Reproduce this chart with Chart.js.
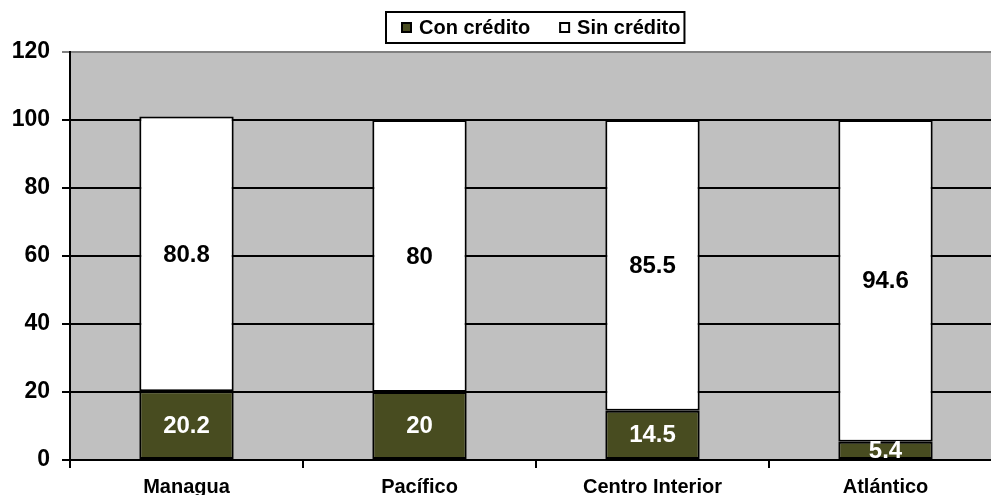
<!DOCTYPE html>
<html>
<head>
<meta charset="utf-8">
<script src="https://cdn.jsdelivr.net/npm/chart.js@4/dist/chart.umd.min.js"></script>
<style>
  html, body { margin: 0; background: #fff; overflow: hidden; }
  #wrap { width: 1002px; height: 495px; position: relative; }
</style>
</head>
<body>
<div id="wrap"><canvas id="chart"></canvas></div>
<script>
var regiones = ['Managua', 'Pacífico', 'Centro Interior', 'Atlántico'];
var conCredito = [20.2, 20, 14.5, 5.4];
var sinCredito = [80.8, 80, 85.5, 94.6];
var yTicks = [0, 20, 40, 60, 80, 100, 120];

var FONT = "'Liberation Sans', Arial, sans-serif";

// plot background
var fondoPlugin = {
    id: 'fondo',
    beforeDraw: function(chart) {
        var a = chart.chartArea, ctx = chart.ctx;
        ctx.save();
        ctx.fillStyle = '#C0C0C0';
        ctx.fillRect(a.left, a.top, a.right - a.left, a.bottom - a.top);
        ctx.restore();
    }
};

// framed legend, centred over the plot area
var leyendaPlugin = {
    id: 'leyenda',
    afterDraw: function(chart) {
        var ctx = chart.ctx, a = chart.chartArea;
        var sets = chart.data.datasets;
        ctx.save();
        ctx.font = 'bold 20px ' + FONT;
        ctx.textBaseline = 'middle';
        var mk = 9, gap = 8, itemGap = 30, padL = 16, padR = 4;
        var widths = sets.map(function(d) { return ctx.measureText(d.label).width; });
        var total = padL + padR;
        widths.forEach(function(w, i) { total += mk + gap + w + (i ? itemGap : 0); });
        var x0 = Math.round((a.left + a.right) / 2 - total / 2) - 1;
        var top = 12, h = 31, cy = top + h / 2;
        ctx.fillStyle = '#fff';
        ctx.fillRect(x0, top, total, h);
        ctx.strokeStyle = '#000';
        ctx.lineWidth = 2;
        ctx.strokeRect(x0, top, total, h);
        var x = x0 + padL;
        sets.forEach(function(d, i) {
            if (i) x += itemGap;
            ctx.fillStyle = d.backgroundColor;
            ctx.fillRect(x, cy - mk / 2, mk, mk);
            ctx.lineWidth = 2;
            ctx.strokeRect(x, cy - mk / 2, mk, mk);
            x += mk + gap;
            ctx.fillStyle = '#000';
            ctx.fillText(d.label, x, cy + 1);
            x += widths[i];
        });
        ctx.restore();
    }
};

// value labels centred in each segment
var etiquetasPlugin = {
    id: 'etiquetas',
    afterDatasetsDraw: function(chart) {
        var ctx = chart.ctx;
        ctx.save();
        ctx.font = 'bold 24px ' + FONT;
        ctx.textAlign = 'center';
        ctx.textBaseline = 'middle';
        chart.data.datasets.forEach(function(ds, i) {
            var meta = chart.getDatasetMeta(i);
            ctx.fillStyle = i === 0 ? '#FFFFFF' : '#000000';
            meta.data.forEach(function(bar, j) {
                var y = (bar.y + bar.base) / 2;
                ctx.fillText(String(ds.data[j]), bar.x, y + 1);
            });
        });
        ctx.restore();
    }
};

var ctx = document.getElementById('chart').getContext('2d');
new Chart(ctx, {
    type: 'bar',
    data: {
        labels: regiones,
        datasets: [
            {
                label: 'Con crédito',
                data: conCredito,
                backgroundColor: '#484C20',
                borderColor: '#000',
                borderWidth: 2,
                borderSkipped: false,
                categoryPercentage: 1,
                barPercentage: 0.405
            },
            {
                label: 'Sin crédito',
                data: sinCredito,
                backgroundColor: '#FFFFFF',
                borderColor: '#000',
                borderWidth: 2,
                borderSkipped: false,
                categoryPercentage: 1,
                barPercentage: 0.405
            }
        ]
    },
    options: {
        responsive: true,
        maintainAspectRatio: false,
        animation: false,
        layout: { padding: { top: 52, left: 0, right: 0, bottom: 0 } },
        plugins: {
            tooltip: { enabled: false },
            legend: { display: false }
        },
        scales: {
            x: {
                stacked: true,
                border: { color: '#000', width: 2 },
                grid: {
                    offset: true,
                    drawOnChartArea: false,
                    color: '#000',
                    lineWidth: 2,
                    tickLength: 8
                },
                ticks: {
                    color: '#000',
                    font: { family: FONT, size: 20, weight: 'bold' },
                    padding: 7
                },
                afterFit: function(s) { s.height = 35; }
            },
            y: {
                stacked: true,
                min: 0,
                max: 120,
                border: { color: '#000', width: 2 },
                grid: {
                    color: function(c) { return c.tick && c.tick.value === 120 ? '#808080' : '#000'; },
                    lineWidth: 2,
                    tickLength: 8
                },
                afterBuildTicks: function(s) {
                    s.ticks = yTicks.map(function(v) { return { value: v }; });
                },
                ticks: {
                    color: '#000',
                    font: { family: FONT, size: 23, weight: 'bold' },
                    padding: 12
                },
                afterFit: function(s) { s.width = 70; }
            }
        }
    },
    plugins: [fondoPlugin, etiquetasPlugin, leyendaPlugin]
});
</script>
</body>
</html>
